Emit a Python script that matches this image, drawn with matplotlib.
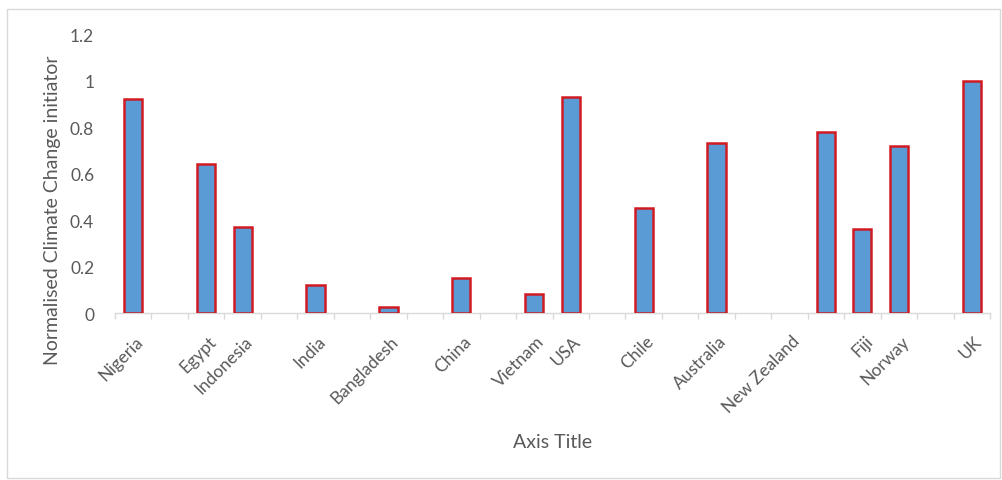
import matplotlib.pyplot as plt
import matplotlib.transforms as mtransforms
from matplotlib.patches import Rectangle
import numpy as np

# category slots (empty strings are blank rows in the sheet)
countries = [
    "Nigeria", "", "Egypt", "Indonesia", "", "India", "", "Bangladesh", "",
    "China", "", "Vietnam", "USA", "", "Chile", "", "Australia", "",
    "New Zealand", "", "Fiji", "Norway", "", "UK",
]
# normalised values, None where there is no bar
values = [
    0.92, None, 0.64, 0.37, None, 0.12, None, 0.025, None,
    0.15, None, 0.08, 0.93, None, 0.45, None, 0.73, None,
    None, 0.78, 0.36, 0.72, None, 1.0,
]
yticks = [0, 0.2, 0.4, 0.6, 0.8, 1, 1.2]
ytick_labels = ["0", "0.2", "0.4", "0.6", "0.8", "1", "1.2"]

plt.rcParams["font.family"] = ["Lato", "DejaVu Sans"]
grey = "#595959"

fig = plt.figure(figsize=(10.03, 4.81), dpi=100)
ax = fig.add_axes([0.1147, 0.347, 0.8723, 0.58])

# chart area border
fig.patches.append(Rectangle((0.007, 0.004), 0.99, 0.975, transform=fig.transFigure,
                             fill=False, edgecolor="#D9D9D9", linewidth=1.0))

x = np.arange(len(countries))
xs = [i for i, v in zip(x, values) if v is not None]
hs = [v for v in values if v is not None]
ax.bar(xs, hs, width=0.5, color="#5B9BD5", edgecolor="#D11A22", linewidth=1.8,
       zorder=3)

ax.set_xlim(-0.5, len(countries) - 0.5)
ax.set_ylim(0, 1.2)

for side in ["top", "right", "left"]:
    ax.spines[side].set_visible(False)
ax.spines["bottom"].set_color("#D9D9D9")
ax.spines["bottom"].set_linewidth(1.0)

ax.set_yticks(yticks)
ax.set_yticklabels(ytick_labels)
ax.tick_params(axis="y", length=0, pad=15, labelsize=12.5, labelcolor=grey)

ax.set_xticks(x)
ax.set_xticks(np.arange(-0.5, len(countries), 1.0), minor=True)
ax.tick_params(axis="x", which="major", length=0, pad=14)
ax.tick_params(axis="x", which="minor", length=4, color="#D9D9D9", width=1.0)
offset = mtransforms.ScaledTranslation(2 / 100, 0, fig.dpi_scale_trans)
ax.set_xticklabels(countries, rotation=45, ha="right", va="top",
                   rotation_mode="anchor", fontsize=12.5, color=grey)
for lbl in ax.get_xticklabels():
    lbl.set_transform(lbl.get_transform() + offset)

ax.set_xlabel("Axis Title", fontsize=14, color=grey, va="center")
ax.xaxis.set_label_coords(0.5, -0.462)
ax.set_ylabel("Normalised Climate Change initiator", fontsize=14, color=grey,
              va="center")
ax.yaxis.set_label_coords(-0.072, 0.373)

fig.savefig("out.png", dpi=100)
